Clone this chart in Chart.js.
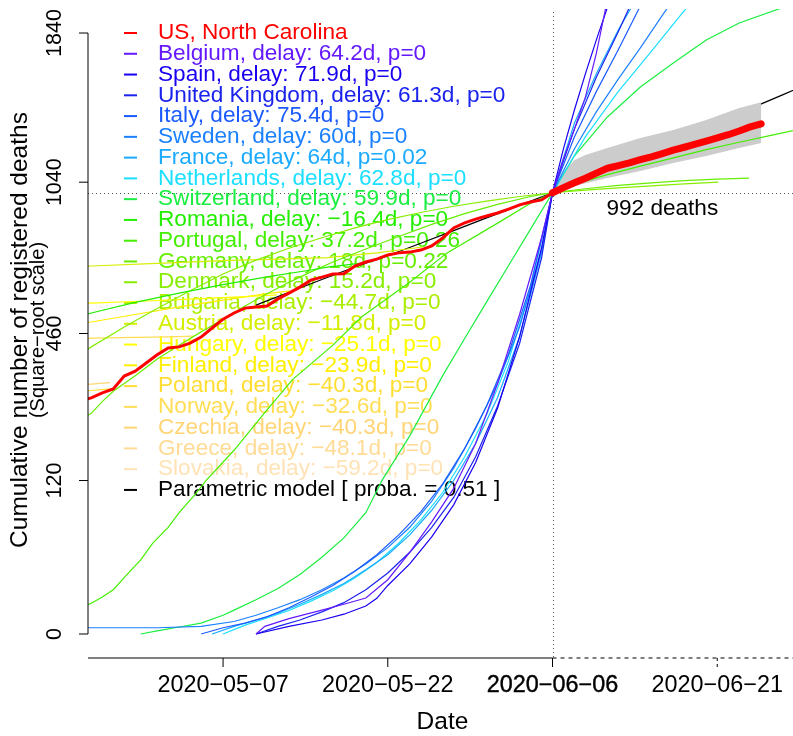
<!DOCTYPE html>
<html>
<head>
<meta charset="utf-8">
<script src="https://cdn.jsdelivr.net/npm/chart.js@4.4.1/dist/chart.umd.min.js"></script>
<style>
  html, body { margin: 0; padding: 0; background: #fff; }
  #wrap { width: 793px; height: 736px; }
</style>
</head>
<body>
<div id="wrap"><canvas id="chart" width="793" height="736"></canvas></div>
<script>
// days counted from 2020-06-06 (day 0), values = cumulative deaths
const yTicks = [0, 120, 460, 1040, 1840];
const xTickDays = [-30, -15, 0, 15];
const xTickLabels = ['2020−05−07', '2020−05−22', '2020−06−06', '2020−06−21'];
const refDeaths = 992;

// North Carolina, observed up to 06-06
const ncBefore = [[-43,277],[-42,284],[-41,296],[-40,306],[-39,339],[-38,352],[-37,374],[-36,397],[-35,417],
  [-34,420],[-33,431],[-32,449],[-31,477],[-30,505],[-29,525],[-28,541],[-27,545],[-26,548],[-25,572],
  [-24,592],[-23,613],[-22,638],[-21,649],[-20,660],[-19,661],[-18,690],[-17,705],[-16,716],[-15,732],
  [-14,740],[-13,743],[-12,751],[-11,767],[-10,799],[-9,840],[-8,861],[-7,877],[-6,890],[-5,903],
  [-4,920],[-3,938],[-2,951],[-1,960],[0,992]];
// North Carolina, observed after 06-06
const ncAfter = [[0,992],[1,1015],[2,1037],[3,1058],[4,1082],[5,1105],[6,1118],[7,1131],[8,1146],[9,1160],
  [10,1176],[11,1193],[12,1207],[13,1222],[14,1238],[15,1254],[16,1270],[17,1289],[18,1310],[19,1326]];
// parametric model
const modelLine = [[-27,551],[-24,595],[-21,640],[-18,686],[-15,729],[-12,778],[-9,829],[-6,882],[-3,936],
  [0,992],[3,1056],[6,1122],[9,1190],[12,1260],[15,1332],[18,1406],[21,1482],[24,1560]];
// prediction band
const bandUpper = [[0,992],[1,1087],[2,1145],[3,1169],[5,1203],[8,1253],[11,1294],[14,1346],[17,1409],[19,1440],[19.01,1507]];
const bandLower = [[0,992],[2,1022],[5,1059],[8,1092],[11,1130],[14,1164],[17,1203],[19,1228],[19.01,1228]];

const belgium = [[-27,0],[-26.2,0.3],[-24,1.2],[-21,2.9],[-19,4.5],[-17,6.6],[-15,15],[-13,34],[-11,64],[-9,108],
  [-7,185],[-5,320],[-3,520],[-1,800],[0,992],[1,1150],[2,1300],[3,1470],[4,1720],[5,2050]];
const spain = [[-27,0],[-24,0.3],[-21,1],[-19,2],[-17,4],[-16,6.5],[-15,12],[-13,25],[-11,48],[-9,85],[-7,150],
  [-5,260],[-3,450],[-1,760],[0,992],[1,1200],[2,1400],[3,1600],[4,1800],[5,2000],[6,2200]];
const unitedKingdom = [[-27,0],[-25,0.3],[-23,1],[-21,2.5],[-19,5],[-17,10],[-15,19],[-13,34],[-11,58],[-9,95],
  [-7,160],[-5,265],[-3,430],[-1,720],[0,992],[2,1300],[4,1580],[6,1850],[7,2000]];
const italy = [[-32,0],[-30,0.2],[-28,0.6],[-26,1.5],[-24,3.5],[-22,7],[-20,12],[-18,20],[-16,32],[-14,50],
  [-12,76],[-10,115],[-8,175],[-6,265],[-4,400],[-2,620],[0,992],[2,1260],[4,1500],[6,1740],[8,2010]];
const sweden = [[-43,0.2],[-36,0.2],[-32,0.3],[-29,0.8],[-27,1.8],[-25,3.5],[-23,6],[-21,10],[-19,16],[-17,25],
  [-15,38],[-13,58],[-11,90],[-9,140],[-7,215],[-5,320],[-3,480],[-1,750],[0,992],[2,1200],[4,1390],
  [6,1570],[8,1750],[10,1950],[11,2050]];
const france = [[-31,0],[-29,0.3],[-27,1],[-25,2.2],[-23,4.5],[-21,8],[-19,13],[-17,21],[-15,32],[-13,50],
  [-11,78],[-9,120],[-7,185],[-5,285],[-3,450],[-1,740],[0,992],[2,1330],[4,1600],[6,1860],[8,2100]];
const netherlands = [[-30,0],[-28,0.4],[-26,1.3],[-24,2.8],[-22,5.5],[-20,9.5],[-18,16],[-16,26],[-14,42],
  [-12,66],[-10,102],[-8,160],[-6,245],[-4,380],[-2,610],[0,992],[3,1260],[6,1500],[9,1730],[12,1980],[13,2060]];
const switzerland = [[-37.5,0],[-36,0.05],[-34,0.25],[-32,0.6],[-30,1.8],[-29,2.9],[-27,6],[-25,10.5],[-23,18],
  [-21,30],[-19,47],[-17,75],[-15.5,121],[-13,200],[-10,340],[-8,445],[-6,562],[-4,692],[-2,835],[0,992],
  [2,1165],[5,1362],[8,1524],[11,1661],[14,1798],[17,1902],[21,2000]];
const romania = [[-43,515],[-42,525],[-38,560],[-34,592],[-30,622],[-26,650],[-22,675],[-20.5,686],[-18,698],[-16.4,706]];
const portugal = [[-43,3.5],[-42,4.8],[-41,7],[-40,10],[-38.8,17.7],[-37.5,28],[-36.4,42],[-35,58],[-34,75],
  [-32.5,100],[-31.5,121],[-29,172],[-26,256],[-23.7,329],[-20,425],[-17.4,512],[-13,630],[-9.6,740],
  [-5,860],[-2,945],[0,992],[2,1030],[5,1075],[8,1115],[11,1155],[14,1195],[17,1232],[20,1268],[23,1305]];
const germany = [[-43,235],[-42,248],[-41,275],[-40,300],[-38,340],[-36,385],[-34,425],[-32,465],[-30,505],
  [-28,548],[-26,590],[-24,630],[-22,668],[-20,705],[-17,755],[-14,805],[-11,855],[-8,900],[-5,940],
  [-2,975],[0,992],[3,1010],[6,1025],[9,1037],[12,1047],[15,1054],[17.9,1059]];
const denmark = [[-43,400],[-42,420],[-39,480],[-36,540],[-33,600],[-30,660],[-27,712],[-24,758],[-21,800],
  [-18,840],[-15,875],[-12,905],[-9,932],[-6,955],[-3,975],[0,992],[3,1004],[6,1014],[9,1023],[12,1032],[15.1,1040]];
const bulgaria = [];
const austria = [[-43,688],[-42,690],[-36,700],[-30,710],[-25,716],[-20.5,722],[-16,740],[-11.8,763]];
const hungary = [[-43,556],[-42,558],[-37,565],[-32,573],[-28,580],[-25.1,586]];
const finland = [[-43,492],[-42,496],[-38,520],[-34,545],[-30,568],[-26,590],[-23.9,600]];
const poland = [[-43,300],[-42,302],[-40.3,306]];
const norway = [[-43,444],[-42,446],[-38,448],[-35,450],[-32.6,452]];
const czechia = [[-43,316],[-42,318],[-40.3,322]];
const greece = [];
const slovakia = [];

const countryNames = ['Belgium', 'Spain', 'United Kingdom', 'Italy', 'Sweden', 'France', 'Netherlands',
  'Switzerland', 'Romania', 'Portugal', 'Germany', 'Denmark', 'Bulgaria', 'Austria', 'Hungary', 'Finland',
  'Poland', 'Norway', 'Czechia', 'Greece', 'Slovakia'];
const countryDelays = ['64.2', '71.9', '61.3', '75.4', '60', '64', '62.8', '59.9', '−16.4', '37.2', '18', '15.2',
  '−44.7', '−11.8', '−25.1', '−23.9', '−40.3', '−32.6', '−40.3', '−48.1', '−59.2'];
const countryP = ['0', '0', '0', '0', '0', '0.02', '0', '0', '0', '0.26', '0.22', '0', '0', '0', '0', '0', '0',
  '0', '0', '0', '0'];
const countryColors = ['#6419ff', '#1a00f0', '#1a22ee', '#1a5aff', '#1a80ff', '#1aaaff', '#1adfff',
  '#1aee40', '#22ee00', '#44ee00', '#66ee00', '#88ee00', '#aaee00', '#d5ee00', '#ffff00', '#ffee00',
  '#ffdd33', '#ffdd55', '#ffd575', '#ffdb95', '#ffe2b5'];
const countrySeries = [belgium, spain, unitedKingdom, italy, sweden, france, netherlands, switzerland, romania,
  portugal, germany, denmark, bulgaria, austria, hungary, finland, poland, norway, czechia, greece, slovakia];

const FONT = '"Liberation Sans", Arial, Helvetica, sans-serif';

// square-root scale
const ssqrt = v => Math.sign(v) * Math.sqrt(Math.abs(v));
class SqrtScale extends Chart.LinearScale {
  getPixelForValue(value) {
    const a = ssqrt(this.min), b = ssqrt(this.max);
    return this.getPixelForDecimal((ssqrt(value) - a) / (b - a));
  }
  getValueForPixel(pixel) {
    const a = ssqrt(this.min), b = ssqrt(this.max);
    const s = a + this.getDecimalForPixel(pixel) * (b - a);
    return Math.sign(s) * s * s;
  }
}
SqrtScale.id = 'sqrt';
SqrtScale.defaults = Chart.LinearScale.defaults;
Chart.register(SqrtScale);

const toPoints = arr => arr.map(([d, v]) => ({ x: d, y: v }));

const datasets = [];
datasets.push({ label: 'model', data: toPoints(modelLine), borderColor: '#000', borderWidth: 1.2, order: 5 });
datasets.push({ label: 'upper', data: toPoints(bandUpper), borderWidth: 0, borderColor: 'rgba(0,0,0,0)',
  backgroundColor: '#cccccc', fill: '+1', order: 4 });
datasets.push({ label: 'lower', data: toPoints(bandLower), borderWidth: 0, borderColor: 'rgba(0,0,0,0)', order: 4 });
countrySeries.forEach((s, i) => {
  datasets.push({ label: countryNames[i], data: toPoints(s), borderColor: countryColors[i], borderWidth: 1.2, order: 3 });
});
datasets.push({ label: 'US, North Carolina', data: toPoints(ncBefore), borderColor: '#ff0000', borderWidth: 3, order: 1 });
datasets.push({ label: 'NC after', data: toPoints(ncAfter), borderColor: '#ff0000', borderWidth: 7,
  borderCapStyle: 'round', borderJoinStyle: 'round', order: 0 });

// R-style axes, reference lines and labels
const rAxes = {
  id: 'rAxes',
  beforeDatasetsDraw(chart) {
    const ctx = chart.ctx, xs = chart.scales.x, ys = chart.scales.y, area = chart.chartArea;
    ctx.save();
    // dotted reference lines
    ctx.strokeStyle = '#555';
    ctx.lineWidth = 1;
    ctx.setLineDash([1, 3]);
    const yr = Math.round(ys.getPixelForValue(refDeaths)) + 0.5;
    const xr = Math.round(xs.getPixelForValue(0)) + 0.5;
    ctx.beginPath(); ctx.moveTo(area.left, yr); ctx.lineTo(area.right, yr); ctx.stroke();
    ctx.beginPath(); ctx.moveTo(xr, area.top + 3); ctx.lineTo(xr, area.bottom); ctx.stroke();
    ctx.setLineDash([]);

    // legend
    const labels = ['US, North Carolina'].concat(countryNames.map((n, i) =>
      n + ', delay: ' + countryDelays[i] + 'd, p=' + countryP[i])).concat(['Parametric model [ proba. = 0.51 ]']);
    const colors = ['#ff0000'].concat(countryColors).concat(['#000000']);
    ctx.font = '22.6px ' + FONT;
    ctx.textBaseline = 'middle';
    ctx.textAlign = 'left';
    labels.forEach((t, i) => {
      const y = 33 + i * 20.77;
      ctx.strokeStyle = colors[i];
      ctx.lineWidth = 2;
      ctx.beginPath(); ctx.moveTo(124, y); ctx.lineTo(137, y); ctx.stroke();
      ctx.fillStyle = colors[i];
      ctx.fillText(t, 158, y);
    });
    ctx.restore();
  },
  afterDraw(chart) {
    const ctx = chart.ctx, xs = chart.scales.x, ys = chart.scales.y, area = chart.chartArea;
    ctx.save();
    ctx.strokeStyle = '#000';
    ctx.fillStyle = '#000';
    ctx.lineWidth = 1;
    // y axis
    const y0 = ys.getPixelForValue(yTicks[0]), y1 = ys.getPixelForValue(yTicks[yTicks.length - 1]);
    ctx.beginPath(); ctx.moveTo(area.left, y0); ctx.lineTo(area.left, y1); ctx.stroke();
    ctx.font = '21.5px ' + FONT;
    ctx.textAlign = 'center';
    ctx.textBaseline = 'middle';
    yTicks.forEach(v => {
      const y = ys.getPixelForValue(v);
      ctx.beginPath(); ctx.moveTo(area.left, y); ctx.lineTo(area.left - 9, y); ctx.stroke();
      ctx.save();
      ctx.translate(area.left - 33, y);
      ctx.rotate(-Math.PI / 2);
      ctx.fillText(String(v), 0, 0);
      ctx.restore();
    });
    // x axis: solid up to day 0, dashed after
    const xb = area.bottom;
    const xz = xs.getPixelForValue(0);
    ctx.beginPath(); ctx.moveTo(area.left, xb); ctx.lineTo(xz, xb); ctx.stroke();
    ctx.setLineDash([4, 4]);
    ctx.beginPath(); ctx.moveTo(xz, xb); ctx.lineTo(area.right, xb); ctx.stroke();
    ctx.setLineDash([]);
    ctx.font = '23.4px ' + FONT;
    xTickDays.forEach((d, i) => {
      const x = xs.getPixelForValue(d);
      if (d > 0) ctx.setLineDash([3, 3]);
      ctx.beginPath(); ctx.moveTo(x, xb); ctx.lineTo(x, xb + 9); ctx.stroke();
      ctx.setLineDash([]);
      ctx.fillText(xTickLabels[i], x, xb + 28);
      if (d === 0) { ctx.lineWidth = 0.4; ctx.strokeText(xTickLabels[i], x, xb + 28); ctx.lineWidth = 1; }
    });
    // axis titles
    ctx.font = '24.5px ' + FONT;
    ctx.fillText('Date', (area.left + area.right) / 2 + 2, xb + 64);
    ctx.save();
    ctx.translate(20, 330);
    ctx.rotate(-Math.PI / 2);
    ctx.fillText('Cumulative number of registered deaths', 0, 0);
    ctx.font = '20px ' + FONT;
    ctx.fillText('(Square−root scale)', 0, 18);
    ctx.restore();
    // annotation
    ctx.font = '22.6px ' + FONT;
    ctx.fillText(refDeaths + ' deaths', xs.getPixelForValue(10), ys.getPixelForValue(refDeaths) + 16);
    ctx.restore();
  }
};

new Chart(document.getElementById('chart'), {
  type: 'line',
  data: { datasets },
  options: {
    responsive: false,
    animation: false,
    events: [],
    layout: { padding: { left: 88, top: 9, right: 0, bottom: 78 } },
    elements: { point: { radius: 0 }, line: { tension: 0, fill: false } },
    scales: {
      x: { type: 'linear', min: -42.3, max: 21.9, display: false },
      y: { type: 'sqrt', min: -2.934, max: 1990, display: false }
    },
    plugins: { legend: { display: false }, tooltip: { enabled: false } }
  },
  plugins: [rAxes]
});
</script>
</body>
</html>
